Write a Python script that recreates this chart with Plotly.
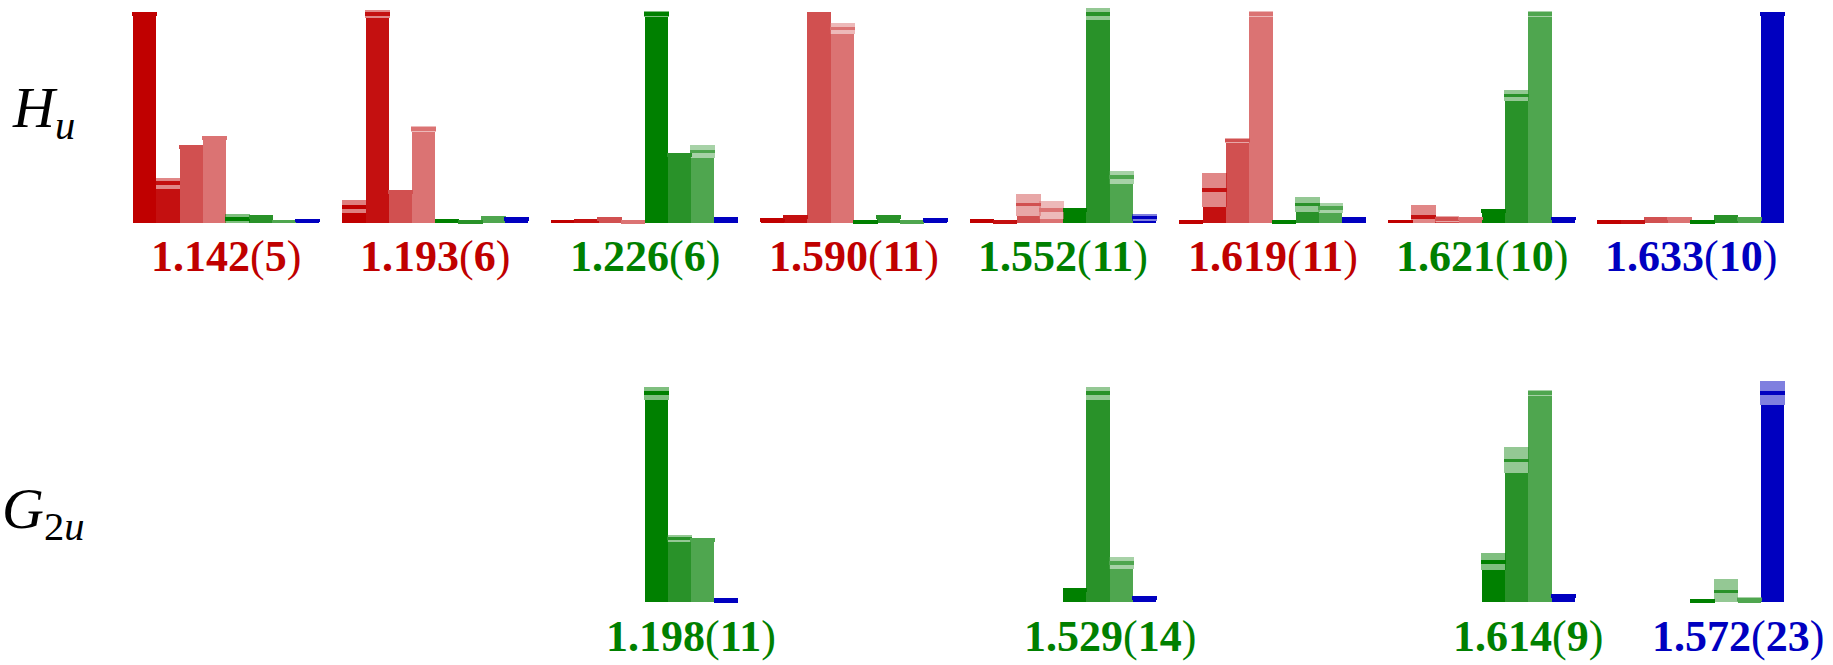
import plotly.graph_objects as go

# ---- data -------------------------------------------------------------
# Each state is a group of 8 overlap bars: 4 red, 3 green, 1 blue operators.
hu_labels = ["1.142(5)", "1.193(6)", "1.226(6)", "1.590(11)",
             "1.552(11)", "1.619(11)", "1.621(10)", "1.633(10)"]
hu_label_family = ["red", "red", "green", "red", "green", "red", "green", "blue"]

hu_overlap = [
    [1.000, 0.190, 0.365, 0.407, 0.020, 0.030, 0.008, 0.012],
    [0.077, 1.000, 0.148, 0.451, 0.010, 0.004, 0.025, 0.020],
    [0.008, 0.010, 0.020, 0.005, 1.000, 0.325, 0.343, 0.020],
    [0.015, 0.030, 1.000, 0.930, 0.005, 0.030, 0.005, 0.015],
    [0.010, 0.005, 0.088, 0.062, 0.062, 1.000, 0.219, 0.027],
    [0.005, 0.158, 0.394, 1.000, 0.005, 0.089, 0.072, 0.020],
    [0.008, 0.030, 0.019, 0.022, 0.058, 0.611, 1.000, 0.022],
    [0.004, 0.006, 0.022, 0.022, 0.004, 0.028, 0.018, 1.000],
]
hu_error = [
    [0.009, 0.026, 0.005, 0.010, 0.025, 0.010, 0.008, 0.004],
    [0.031, 0.017, 0.010, 0.014, 0.010, 0.005, 0.004, 0.005],
    [0.004, 0.006, 0.005, 0.005, 0.015, 0.003, 0.030, 0.005],
    [0.004, 0.003, 0.010, 0.026, 0.005, 0.004, 0.005, 0.004],
    [0.004, 0.005, 0.053, 0.043, 0.005, 0.028, 0.031, 0.018],
    [0.004, 0.080, 0.013, 0.015, 0.005, 0.036, 0.024, 0.004],
    [0.004, 0.055, 0.015, 0.005, 0.005, 0.026, 0.015, 0.004],
    [0.004, 0.005, 0.005, 0.005, 0.004, 0.008, 0.005, 0.008],
]

# G2u only has the green and blue operators (bar slots 4..7)
g2u_groups = [2, 4, 6, 7]
g2u_labels = ["1.198(11)", "1.529(14)", "1.614(9)", "1.572(23)"]
g2u_label_family = ["green", "green", "green", "blue"]
g2u_overlap = [
    [1.000, 0.305, 0.298, 0.012],
    [0.057, 1.000, 0.188, 0.020],
    [0.193, 0.678, 1.000, 0.030],
    [0.005, 0.051, 0.012, 1.000],
]
g2u_error = [
    [0.031, 0.016, 0.006, 0.003],
    [0.004, 0.031, 0.029, 0.004],
    [0.040, 0.062, 0.016, 0.004],
    [0.004, 0.060, 0.010, 0.059],
]

# ---- styling ----------------------------------------------------------
bar_rgb = [(192, 0, 0), (196, 16, 16), (209, 80, 80), (219, 115, 115),
           (0, 128, 0), (41, 146, 41), (79, 166, 79), (0, 0, 192)]
family_color = {"red": "rgb(192,0,0)", "green": "rgb(0,128,0)", "blue": "rgb(0,0,192)"}

SLOTS = 9            # 8 bars + one empty slot between groups
LINE_HALF = 0.0086   # half thickness of the central-value line
SERIF = "Liberation Serif"
LABEL_SIZE = 44


def solid(c):
    return "rgb(%d,%d,%d)" % c


def faded(c):
    return "rgba(%d,%d,%d,0.5)" % c


def add_row(fig, groups, slots, values, errors, yaxis):
    xs, body, band_base, band_h, line_base = [], [], [], [], []
    cs, cf = [], []
    for g, vals, errs in zip(groups, values, errors):
        for s, v, e in zip(slots, vals, errs):
            lo = max(v - e, 0.0)
            xs.append(g * SLOTS + s)
            body.append(lo)
            band_base.append(lo)
            band_h.append(v + e - lo)
            line_base.append(v - LINE_HALF)
            cs.append(solid(bar_rgb[s]))
            cf.append(faded(bar_rgb[s]))
    common = dict(x=xs, yaxis=yaxis, hoverinfo="skip", showlegend=False)
    fig.add_trace(go.Bar(y=body, base=0, width=1.0,
                         marker=dict(color=cs, line=dict(width=0)), **common))
    fig.add_trace(go.Bar(y=band_h, base=band_base, width=1.06,
                         marker=dict(color=cf, line=dict(width=0)), **common))
    fig.add_trace(go.Bar(y=[2 * LINE_HALF] * len(xs), base=line_base, width=1.06,
                         marker=dict(color=cs, line=dict(width=0)), **common))


def energy_text(txt):
    num, unc = txt[:-1].split("(")
    return "<b>%s</b>(<b>%s</b>)" % (num, unc)


fig = go.Figure()
add_row(fig, range(len(hu_overlap)), range(8), hu_overlap, hu_error, "y")
add_row(fig, g2u_groups, range(4, 8), g2u_overlap, g2u_error, "y2")

annotations = []
for g, (txt, fam) in enumerate(zip(hu_labels, hu_label_family)):
    annotations.append(dict(
        x=g * SLOTS + 3.5, y=-0.16, xref="x", yref="y", showarrow=False,
        text=energy_text(txt), yanchor="middle",
        font=dict(family=SERIF, size=LABEL_SIZE, color=family_color[fam])))
for g, txt, fam in zip(g2u_groups, g2u_labels, g2u_label_family):
    annotations.append(dict(
        x=g * SLOTS + 5.5, y=-0.165, xref="x", yref="y2", showarrow=False,
        text=energy_text(txt), yanchor="middle",
        font=dict(family=SERIF, size=LABEL_SIZE, color=family_color[fam])))

W, H = 1833, 665
annotations.append(dict(
    x=10 / W, y=1 - 112 / H, xref="paper", yref="paper", showarrow=False,
    xanchor="left", yanchor="middle", text="<i>H</i><sub><i>u</i></sub>",
    font=dict(family=SERIF, size=58, color="black")))
annotations.append(dict(
    x=0, y=1 - 512 / H, xref="paper", yref="paper", showarrow=False,
    xanchor="left", yanchor="middle", text="<i>G</i><sub>2<i>u</i></sub>",
    font=dict(family=SERIF, size=58, color="black")))

fig.update_layout(
    width=W, height=H, margin=dict(l=0, r=0, t=0, b=0),
    paper_bgcolor="white", plot_bgcolor="white",
    barmode="overlay", bargap=0, showlegend=False,
    xaxis=dict(range=[-6.219, 72.60], visible=False, fixedrange=True),
    yaxis=dict(range=[-2.115, 1.067], visible=False, fixedrange=True),
    yaxis2=dict(range=[-0.301, 2.880], visible=False, fixedrange=True,
                overlaying="y"),
    annotations=annotations,
)

fig.write_html("out.html")
